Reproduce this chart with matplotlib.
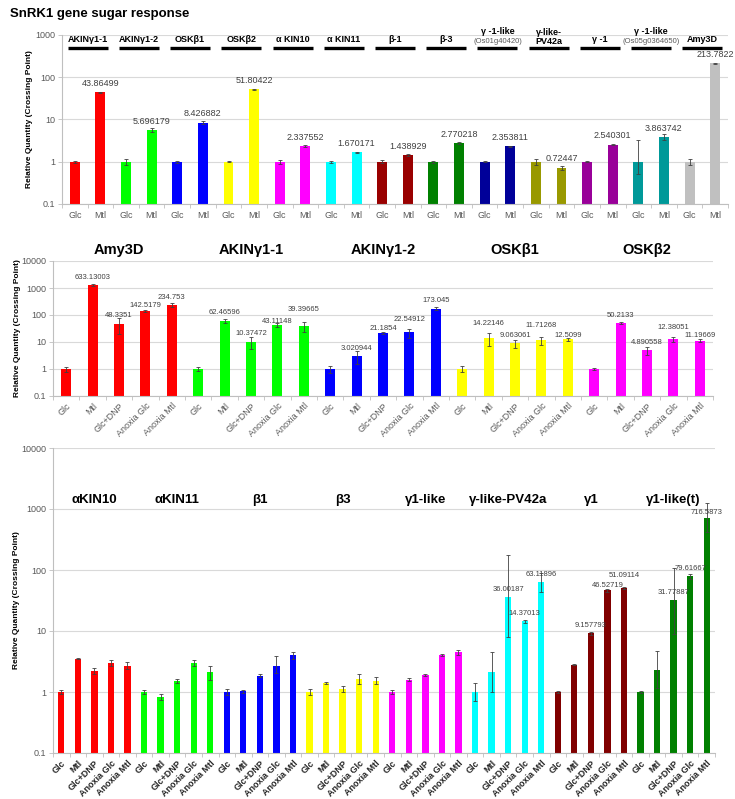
import numpy as np
import matplotlib
matplotlib.use("Agg")
from matplotlib import pyplot as plt
from matplotlib import transforms
from matplotlib.ticker import NullLocator

plt.rcParams['font.family'] = ['Liberation Sans', 'DejaVu Sans']

title = "SnRK1 gene sugar response"
ylabel = "Relative Quantity (Crossing Point)"

# --- top panel: Glc vs Mtl ---
top_genes = ["AKINγ1-1", "AKINγ1-2", "OSKβ1", "OSKβ2", "α KIN10", "α KIN11", "β-1", "β-3",
             "γ -1-like", "γ-like-\nPV42a", "γ -1", "γ -1-like", "Amy3D"]
top_gene_ids = {8: "(Os01g40420)", 11: "(Os05g0364650)"}
top_conditions = ["Glc", "Mtl"]
top_colors = ['#FF0000', '#00FF00', '#0000FF', '#FFFF00', '#FF00FF', '#00FFFF', '#990000',
              '#008000', '#000099', '#999900', '#990099', '#009999', '#C0C0C0']
top_glc = [1.0, 1.0, 1.0, 1.0, 1.0, 1.0, 1.0, 1.0, 1.0, 1.0, 1.0, 1.0, 1.0]
top_mtl = [43.86499, 5.696179, 8.426882, 51.80422, 2.337552, 1.670171, 1.438929, 2.770218,
           2.353811, 0.72447, 2.540301, 3.863742, 213.7822]
top_glc_lo = [0.05, 0.15, 0.05, 0.04, 0.1, 0.05, 0.08, 0.06, 0.04, 0.15, 0.04, 0.5, 0.15]
top_glc_hi = [0.05, 0.15, 0.05, 0.04, 0.1, 0.05, 0.08, 0.06, 0.04, 0.15, 0.04, 2.3, 0.15]
top_mtl_err = [1.5, 0.5, 0.6, 1.5, 0.1, 0.06, 0.05, 0.1, 0.06, 0.08, 0.06, 0.6, 6]
top_labels = ["43.86499", "5.696179", "8.426882", "51.80422", "2.337552", "1.670171", "1.438929",
              "2.770218", "2.353811", "0.72447", "2.540301", "3.863742", "213.7822"]

# --- middle panel ---
conditions = ["Glc", "Mtl", "Glc+DNP", "Anoxia Glc", "Anoxia Mtl"]
mid_genes = ["Amy3D", "AKINγ1-1", "AKINγ1-2", "OSKβ1", "OSKβ2"]
mid_colors = ['#FF0000', '#00FF00', '#0000FF', '#FFFF00', '#FF00FF']
mid_values = [
    [1.0, 1300, 48.3351, 142.5179, 234.753],
    [1.0, 62.46596, 10.37472, 43.11148, 39.39665],
    [1.0, 3.020944, 21.1854, 22.54912, 173.045],
    [1.0, 14.22146, 9.063061, 11.71268, 12.5099],
    [1.0, 50.2133, 4.890558, 12.38051, 11.19669],
]
mid_err = [
    [0.2, 100, 28, 15, 35],
    [0.15, 10, 5, 8, 15],
    [0.3, 1.5, 2, 8, 20],
    [0.25, 7, 3, 4, 2],
    [0.05, 3, 1.5, 2.5, 1.5],
]
mid_labels = [
    ["", "633.13003", "48.3351", "142.5179", "234.753"],
    ["", "62.46596", "10.37472", "43.11148", "39.39665"],
    ["", "3.020944", "21.1854", "22.54912", "173.045"],
    ["", "14.22146", "9.063061", "11.71268", "12.5099"],
    ["", "50.2133", "4.890558", "12.38051", "11.19669"],
]

# --- bottom panel ---
bot_genes = ["αKIN10", "αKIN11", "β1", "β3", "γ1-like", "γ-like-PV42a", "γ1", "γ1-like(t)"]
bot_colors = ['#FF0000', '#00FF00', '#0000FF', '#FFFF00', '#FF00FF', '#00FFFF', '#800000', '#008000']
bot_values = [
    [1.0, 3.5, 2.2, 3.0, 2.7],
    [1.0, 0.83, 1.5, 3.0, 2.1],
    [1.0, 1.02, 1.85, 2.65, 4.0],
    [1.0, 1.42, 1.12, 1.65, 1.53],
    [1.0, 1.6, 1.88, 4.0, 4.45],
    [1.0, 2.1, 36.00187, 14.37013, 63.11896],
    [1.0, 2.8, 9.157793, 46.52719, 51.09114],
    [1.0, 2.3, 31.77887, 79.61667, 716.5873],
]
bot_err_lo = [
    [0.06, 0.08, 0.25, 0.3, 0.35],
    [0.08, 0.08, 0.12, 0.35, 0.55],
    [0.1, 0.06, 0.12, 0.6, 0.5],
    [0.1, 0.05, 0.12, 0.3, 0.2],
    [0.07, 0.1, 0.08, 0.15, 0.4],
    [0.3, 1.1, 28, 1.0, 20],
    [0.05, 0.05, 0.6, 3, 2],
    [0.05, 1.14, 23, 8, 300],
]
bot_err_hi = [
    [0.06, 0.08, 0.25, 0.3, 0.35],
    [0.08, 0.08, 0.12, 0.35, 0.55],
    [0.1, 0.06, 0.12, 1.2, 0.5],
    [0.1, 0.05, 0.12, 0.3, 0.2],
    [0.07, 0.1, 0.08, 0.15, 0.4],
    [0.4, 2.4, 140, 1.0, 27],
    [0.05, 0.05, 0.6, 3, 2],
    [0.05, 2.4, 76, 8, 530],
]
bot_labels = [
    ["", "", "", "", ""],
    ["", "", "", "", ""],
    ["", "", "", "", ""],
    ["", "", "", "", ""],
    ["", "", "", "", ""],
    ["", "", "36.00187", "14.37013", "63.11896"],
    ["", "", "9.157793", "46.52719", "51.09114"],
    ["", "", "31.77887", "79.61667", "716.5873"],
]

# extra vertical shift (points) of some data labels, as placed in the original
mid_label_shift = {(0, 3): -1.5, (1, 3): -3, (1, 4): 6, (2, 2): -2, (2, 3): 4,
                   (3, 1): 5, (3, 3): 5, (3, 4): -3, (4, 3): 3, (4, 4): -1.5}
bot_label_shift = {(6, 3): -2, (6, 4): 3, (7, 4): -1.5}

GRID = '#D9D9D9'
AXIS = '#BFBFBF'
TICK = '#595959'


def draw_panel(ax, values, lo, hi, colors, ncond, width, labels, label_size, ymax,
               tick_labels, tick_kw, yl_x, shift=None):
    shift = shift or {}
    values = np.asarray(values, float).ravel()
    lo = np.asarray(lo, float).ravel()
    hi = np.asarray(hi, float).ravel()
    x = np.arange(values.size)
    ax.set_yscale('log')
    ax.bar(x, values, width=width, color=np.repeat(colors, ncond), zorder=2)
    ax.errorbar(x, values, yerr=[lo, hi], fmt='none', ecolor='#404040', elinewidth=0.6,
                capsize=1.5, capthick=0.6, zorder=3)
    for xi, v, lab in zip(x, values, np.asarray(labels).ravel()):
        if lab:
            dy = 3 + shift.get((xi // ncond, xi % ncond), 0)
            ax.annotate(lab, (xi, v), xytext=(0, dy), textcoords='offset points',
                        ha='center', va='bottom', fontsize=label_size, color='#404040',
                        zorder=4)
    ax.set_xlim(-0.5, values.size - 0.5)
    ax.set_ylim(0.1, ymax)
    yt = 10.0 ** np.arange(-1, int(np.log10(ymax)) + 1)
    ax.set_yticks(yt)
    ax.set_yticklabels(['%g' % t for t in yt], fontsize=6.5, color=TICK)
    ax.yaxis.set_minor_locator(NullLocator())
    ax.set_xticks(x)
    ax.set_xticklabels(tick_labels, **tick_kw)
    ax.set_xticks(np.arange(values.size + 1) - 0.5, minor=True)
    ax.tick_params(axis='x', which='major', length=0)
    ax.tick_params(axis='x', which='minor', length=3, color=AXIS, width=0.6)
    ax.tick_params(axis='y', length=3, color=AXIS, width=0.6, pad=2)
    ax.grid(axis='y', color=GRID, linewidth=0.8, zorder=0)
    ax.set_axisbelow(True)
    for s in ['top', 'right']:
        ax.spines[s].set_visible(False)
    for s in ['left', 'bottom']:
        ax.spines[s].set_color(AXIS)
        ax.spines[s].set_linewidth(0.8)
    ax.set_ylabel(ylabel, fontsize=6, fontweight='bold')
    ax.yaxis.set_label_coords(yl_x, 0.5)
    return x


fig = plt.figure(figsize=(7.35, 7.99), dpi=100)
fig.text(10 / 735, 1 - 14 / 799, title, fontsize=9.5, fontweight='bold', ha='left', va='center')

# top
ax1 = fig.add_axes([62 / 735, 1 - 204 / 799, 666 / 735, 169 / 799])
draw_panel(ax1, np.column_stack([top_glc, top_mtl]), np.column_stack([top_glc_lo, top_mtl_err]),
           np.column_stack([top_glc_hi, top_mtl_err]), top_colors, 2, 0.39,
           np.column_stack([[""] * len(top_labels), top_labels]), 6.5, 1000,
           top_conditions * len(top_genes),
           dict(fontsize=6.5, color=TICK), -0.0435)
ax1.tick_params(axis='x', which='major', pad=5)
tr1 = transforms.blended_transform_factory(ax1.transData, ax1.transAxes)
for i, g in enumerate(top_genes):
    xc = 2 * i + 0.5
    if i in top_gene_ids:
        ax1.text(xc, 1.018, g, transform=tr1, ha='center', va='center', fontsize=6.5,
                 fontweight='bold')
        ax1.text(xc, 0.962, top_gene_ids[i], transform=tr1, ha='center', va='center',
                 fontsize=5.5, color='#595959')
    elif '\n' in g:
        ax1.text(xc, 0.99, g, transform=tr1, ha='center', va='center', fontsize=6.5,
                 fontweight='bold', linespacing=1.0)
    else:
        ax1.text(xc, 0.972, g, transform=tr1, ha='center', va='center', fontsize=6.5,
                 fontweight='bold')
    ax1.plot([xc - 0.78, xc + 0.78], [0.923, 0.923], transform=tr1, color='black', lw=2.4,
             solid_capstyle='butt', clip_on=False)

# middle
ax2 = fig.add_axes([53 / 735, 1 - 396 / 799, 660 / 735, 135 / 799])
draw_panel(ax2, mid_values, mid_err, mid_err, mid_colors, 5, 0.38, mid_labels, 5.5, 10000,
           conditions * len(mid_genes),
           dict(fontsize=6.5, color=TICK, rotation=45, ha='right', rotation_mode='anchor'),
           -0.0485, mid_label_shift)
ax2.tick_params(axis='x', which='major', pad=4)
tr2 = transforms.blended_transform_factory(ax2.transData, ax2.transAxes)
for i, g in enumerate(mid_genes):
    ax2.text(5 * i + 2, 1.08, g, transform=tr2, ha='center', va='center', fontsize=10.5,
             fontweight='bold')

# bottom
ax3 = fig.add_axes([53 / 735, 1 - 753 / 799, 662 / 735, 305 / 799])
draw_panel(ax3, bot_values, bot_err_lo, bot_err_hi, bot_colors, 5, 0.38, bot_labels, 5.5, 10000,
           conditions * len(bot_genes),
           dict(fontsize=6.5, color='#262626', fontweight='bold', rotation=45, ha='right',
                rotation_mode='anchor'),
           -0.05, bot_label_shift)
ax3.tick_params(axis='x', which='major', pad=4)
tr3 = transforms.blended_transform_factory(ax3.transData, ax3.transAxes)
for i, g in enumerate(bot_genes):
    ax3.text(5 * i + 2, 0.83, g, transform=tr3, ha='center', va='center', fontsize=9.5,
             fontweight='bold')

fig.savefig("out.png", dpi=100)
